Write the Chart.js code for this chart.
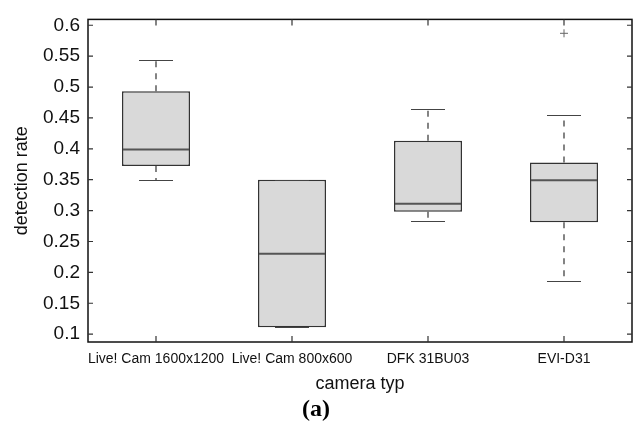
<!DOCTYPE html>
<html lang="en">
<head>
    <meta charset="UTF-8">
    <title>Detection rate by camera type</title>
    <script src="https://cdn.jsdelivr.net/npm/chart.js"></script>
    <style>
        html, body { margin: 0; padding: 0; background: #fff; }
        #wrap { width: 636px; height: 427px; }
    </style>
</head>
<body>
    <div id="wrap"><canvas id="boxChart" width="636" height="427"></canvas></div>

    <script>
        // Box plot data
        const cameras = ["Live! Cam 1600x1200", "Live! Cam 800x600", "DFK 31BU03", "EVI-D31"];
        const whiskerLow = [0.349, 0.111, 0.2825, 0.186];
        const quart1 = [0.372, 0.111, 0.298, 0.281];
        const medians = [0.399, 0.23, 0.311, 0.349];
        const quart3 = [0.493, 0.35, 0.413, 0.378];
        const whiskerHigh = [0.544, 0.35, 0.465, 0.4545];
        const outliers = [[], [], [], [0.587]];
        const yTicks = [0.1, 0.15, 0.2, 0.25, 0.3, 0.35, 0.4, 0.45, 0.5, 0.55, 0.6];

        // whiskers, caps, medians, outliers and the closed frame with inward ticks
        const boxExtras = {
            id: "boxExtras",
            afterDatasetsDraw(chart) {
                const ctx = chart.ctx;
                const x = chart.scales.x, y = chart.scales.y;
                const step = x.getPixelForValue(1) - x.getPixelForValue(0);
                const boxHalf = step * 0.25, capHalf = step * 0.125;
                ctx.save();
                cameras.forEach((c, i) => {
                    const cx = x.getPixelForValue(i);
                    // dashed whiskers
                    ctx.strokeStyle = "#333";
                    ctx.lineWidth = 1.2;
                    ctx.setLineDash([6, 6]);
                    ctx.beginPath();
                    ctx.moveTo(cx, y.getPixelForValue(quart3[i]));
                    ctx.lineTo(cx, y.getPixelForValue(whiskerHigh[i]));
                    ctx.moveTo(cx, y.getPixelForValue(quart1[i]));
                    ctx.lineTo(cx, y.getPixelForValue(whiskerLow[i]));
                    ctx.stroke();
                    ctx.setLineDash([]);
                    // caps
                    ctx.strokeStyle = "#444";
                    ctx.beginPath();
                    [whiskerHigh[i], whiskerLow[i]].forEach(v => {
                        const py = Math.round(y.getPixelForValue(v)) + 0.5;
                        ctx.moveTo(cx - capHalf, py);
                        ctx.lineTo(cx + capHalf, py);
                    });
                    ctx.stroke();
                    // median
                    ctx.strokeStyle = "#555";
                    ctx.lineWidth = 2;
                    ctx.beginPath();
                    const my = y.getPixelForValue(medians[i]);
                    ctx.moveTo(cx - boxHalf + 1, my);
                    ctx.lineTo(cx + boxHalf - 1, my);
                    ctx.stroke();
                    // outliers
                    ctx.strokeStyle = "#666";
                    ctx.lineWidth = 1;
                    outliers[i].forEach(v => {
                        const oy = y.getPixelForValue(v);
                        ctx.beginPath();
                        ctx.moveTo(cx - 4, oy); ctx.lineTo(cx + 4, oy);
                        ctx.moveTo(cx, oy - 4); ctx.lineTo(cx, oy + 4);
                        ctx.stroke();
                    });
                });

                // frame
                const a = chart.chartArea;
                ctx.strokeStyle = "#111";
                ctx.lineWidth = 1.5;
                ctx.strokeRect(a.left, a.top, a.right - a.left, a.bottom - a.top);
                // inward ticks
                ctx.lineWidth = 1.2;
                ctx.strokeStyle = "#333";
                ctx.beginPath();
                y.ticks.forEach(t => {
                    const py = y.getPixelForValue(t.value);
                    ctx.moveTo(a.left, py); ctx.lineTo(a.left + 5, py);
                    ctx.moveTo(a.right, py); ctx.lineTo(a.right - 5, py);
                });
                cameras.forEach((c, i) => {
                    const px = x.getPixelForValue(i);
                    ctx.moveTo(px, a.bottom); ctx.lineTo(px, a.bottom - 6);
                    ctx.moveTo(px, a.top); ctx.lineTo(px, a.top + 6);
                });
                ctx.stroke();
                ctx.restore();
            }
        };

        const ctx = document.getElementById("boxChart").getContext("2d");
        new Chart(ctx, {
            type: "bar",
            data: {
                labels: cameras,
                datasets: [{
                    label: "detection rate",
                    data: cameras.map((c, i) => [quart1[i], quart3[i]]),
                    backgroundColor: "#d9d9d9",
                    borderColor: "#333",
                    borderWidth: 1.5,
                    borderSkipped: false,
                    barPercentage: 0.5,
                    categoryPercentage: 1.0,
                }],
            },
            options: {
                responsive: false,
                animation: false,
                layout: { padding: { left: 0, top: 13, right: 4, bottom: 0 } },
                plugins: {
                    legend: { display: false },
                    tooltip: { enabled: false },
                    title: {
                        display: true,
                        position: "bottom",
                        text: "(a)",
                        color: "#000",
                        font: { family: "Liberation Serif", size: 24, weight: "bold", lineHeight: 1.1 },
                        padding: { top: 0, bottom: 4 },
                    },
                },
                scales: {
                    x: {
                        offset: true,
                        grid: { display: false, drawTicks: false },
                        border: { display: false },
                        ticks: {
                            color: "#111",
                            padding: 9,
                            maxRotation: 0,
                            autoSkip: false,
                            font: { family: "Liberation Sans", size: 14 },
                        },
                        title: {
                            display: true,
                            text: "camera typ",
                            color: "#111",
                            font: { family: "Liberation Sans", size: 18, lineHeight: 1.2 },
                            padding: { top: 0, bottom: 2 },
                        },
                        afterFit: scale => { scale.height = 54.6; },
                    },
                    y: {
                        min: 0.0873,
                        max: 0.6095,
                        grid: { display: false, drawTicks: false },
                        border: { display: false },
                        afterBuildTicks: scale => { scale.ticks = yTicks.map(v => ({ value: v })); },
                        ticks: {
                            color: "#111",
                            padding: 8,
                            font: { family: "Liberation Sans", size: 19 },
                            callback: v => String(+v.toFixed(2)),
                        },
                        title: {
                            display: true,
                            text: "detection rate",
                            color: "#111",
                            font: { family: "Liberation Sans", size: 18, lineHeight: 1.2 },
                            padding: { top: 11, bottom: 0 },
                        },
                        afterFit: scale => { scale.width = 88; },
                    },
                },
            },
            plugins: [boxExtras],
        });
    </script>
</body>
</html>
